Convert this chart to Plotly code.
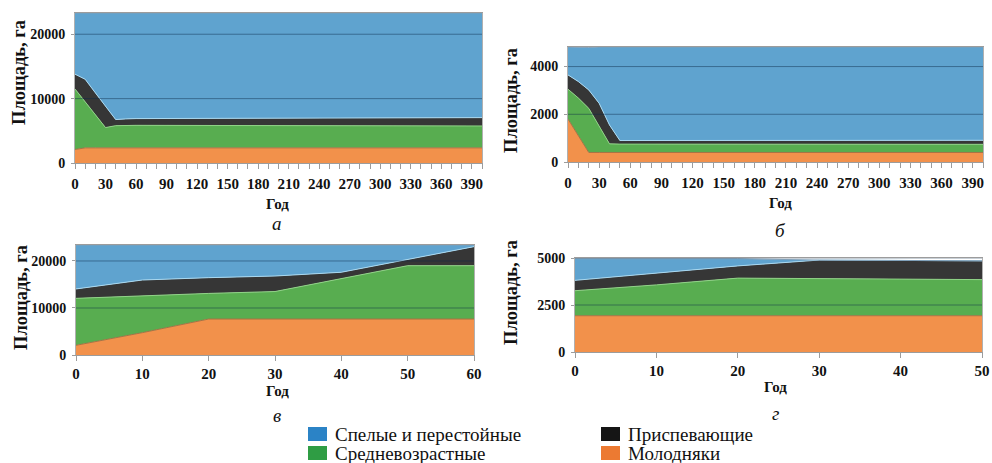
import plotly.graph_objects as go

W, H = 992, 463

# ---------------- data ----------------
categories = ["Молодняки", "Средневозрастные", "Приспевающие", "Спелые и перестойные"]

# panel а
a_years = [0, 10, 20, 30, 40, 50, 60, 400]
a_young = [2100, 2350, 2350, 2350, 2350, 2350, 2350, 2350]
a_middle = [9400, 7150, 5150, 3150, 3450, 3500, 3500, 3400]
a_premature = [2300, 3500, 3400, 3350, 950, 1000, 1050, 1300]
a_mature = [9500, 10300, 12400, 14450, 16550, 16450, 16400, 16250]

# panel б
b_years = [0, 10, 20, 30, 40, 50, 400]
b_young = [1800, 1100, 400, 400, 400, 400, 400]
b_middle = [1250, 1580, 1850, 1080, 360, 350, 340]
b_premature = [600, 690, 770, 980, 790, 150, 170]
b_mature = [1170, 1430, 1780, 2360, 3270, 3920, 3910]

# panel в
c_years = [0, 10, 20, 30, 40, 50, 60]
c_young = [2060, 4750, 7650, 7650, 7650, 7650, 7650]
c_middle = [9990, 7850, 5450, 5850, 8650, 11350, 11350]
c_premature = [2000, 3350, 3350, 3300, 1300, 1350, 4050]
c_mature = [9350, 7450, 6950, 6600, 5800, 3050, 350]

# panel г
d_years = [0, 10, 20, 30, 40, 50]
d_young = [1930, 1930, 1930, 1930, 1930, 1930]
d_middle = [1330, 1640, 2000, 1970, 1940, 1920]
d_premature = [550, 640, 650, 990, 1000, 1000]
d_mature = [1150, 750, 380, 0, 0, 0]

# tick labels
a_xticks = list(range(0, 391, 30))
b_xticks = list(range(0, 391, 30))
c_xticks = list(range(0, 61, 10))
d_xticks = list(range(0, 51, 10))
a_yticks = [0, 10000, 20000]
b_yticks = [0, 2000, 4000]
c_yticks = [0, 10000, 20000]
d_yticks = [0, 2500, 5000]

panel_letters = ["а", "б", "в", "г"]
x_title = "Год"
y_title = "Площадь, га"
legend_order = ["Спелые и перестойные", "Приспевающие", "Средневозрастные", "Молодняки"]

# ---------------- styles ----------------
fill_colors = {
    "Молодняки": "#f2914b",
    "Средневозрастные": "#58ad50",
    "Приспевающие": "#363636",
    "Спелые и перестойные": "#5fa3cf",
}
edge_colors = {
    "Молодняки": "#a77243",
    "Средневозрастные": "#8fd486",
    "Приспевающие": "#a8d8f0",
    "Спелые и перестойные": "#7f9fb8",
}
legend_colors = {
    "Спелые и перестойные": "#2b83c6",
    "Приспевающие": "#151515",
    "Средневозрастные": "#2f9d44",
    "Молодняки": "#ec7a32",
}

SERIF = "Liberation Serif, Times New Roman, Times, serif"

def fx(px):
    return px / W

def fy(py):
    return 1 - py / H

def px_x(a, b):
    return [fx(a), fx(b)]

def px_y(top, bottom):
    return [fy(bottom), fy(top)]

panels = [
    dict(x=a_years, vals=[a_young, a_middle, a_premature, a_mature], xr=[0, 400], yr=[0, 23300],
         xt=a_xticks, yt=a_yticks, dom_x=px_x(75, 482), dom_y=px_y(13, 163), minor=10, so=2),
    dict(x=b_years, vals=[b_young, b_middle, b_premature, b_mature], xr=[0, 400], yr=[0, 4820],
         xt=b_xticks, yt=b_yticks, dom_x=px_x(568, 983), dom_y=px_y(47, 162), minor=10, so=2),
    dict(x=c_years, vals=[c_young, c_middle, c_premature, c_mature], xr=[0, 60], yr=[0, 23400],
         xt=c_xticks, yt=c_yticks, dom_x=px_x(76, 474), dom_y=px_y(245, 355), minor=None, so=0),
    dict(x=d_years, vals=[d_young, d_middle, d_premature, d_mature], xr=[0, 50], yr=[0, 5000],
         xt=d_xticks, yt=d_yticks, dom_x=px_x(575, 982), dom_y=px_y(258, 352), minor=None, so=0),
]

fig = go.Figure()
shapes = []
annotations = []
layout_axes = {}

for i, p in enumerate(panels):
    n = "" if i == 0 else str(i + 1)
    xa, ya = "x" + n, "y" + n
    for cat, vals in zip(categories, p["vals"]):
        fig.add_trace(go.Scatter(
            x=p["x"], y=vals, xaxis=xa, yaxis=ya, mode="lines",
            stackgroup="s" + str(i), name=cat, showlegend=False,
            line=dict(color=edge_colors[cat], width=1),
            fillcolor=fill_colors[cat], hoverinfo="skip",
        ))
    xaxis = dict(
        domain=p["dom_x"], range=p["xr"], anchor=ya, tickmode="array",
        tickvals=p["xt"], ticktext=[str(v) for v in p["xt"]], automargin=False,
        showgrid=False, zeroline=False, showline=True, linecolor="#9c9c9c", mirror=True,
        ticks="outside", ticklen=5, tickcolor="#9c9c9c",
        tickfont=dict(family=SERIF, size=15, color="#111", weight="bold"),
        ticklabelstandoff=p["so"], ticklabeloverflow="allow", fixedrange=True,
    )
    if p["minor"]:
        xaxis["minor"] = dict(dtick=p["minor"], ticks="outside", ticklen=5, tickcolor="#9c9c9c", showgrid=False)
    yaxis = dict(
        domain=p["dom_y"], range=p["yr"], anchor=xa, tickmode="array",
        tickvals=p["yt"], ticktext=[str(v) for v in p["yt"]], automargin=False,
        showgrid=False, zeroline=False, showline=True, linecolor="#b0b0b0", mirror=True,
        ticks="outside", ticklen=3, tickcolor="#9c9c9c",
        tickfont=dict(family=SERIF, size=14, color="#111", weight="bold"),
        ticklabelstandoff=3, ticklabeloverflow="allow", fixedrange=True,
    )
    layout_axes["xaxis" + n] = xaxis
    layout_axes["yaxis" + n] = yaxis
    for yv in p["yt"][1:]:
        shapes.append(dict(type="line", xref=xa + " domain", yref=ya, x0=0, x1=1, y0=yv, y1=yv,
                           line=dict(color="rgba(10,40,70,0.45)", width=1), layer="above"))

# axis titles and panel letters (pixel positions)
ytitle_pos = [(19, 73), (511, 101), (21, 298), (511, 293)]
xtitle_pos = [(277, 204), (780, 203), (277, 391), (775, 387)]
letter_pos = [(277, 224), (780, 230), (277, 415), (775, 413)]
for k in range(4):
    x, y = ytitle_pos[k]
    annotations.append(dict(xref="paper", yref="paper", x=fx(x), y=fy(y), text=y_title,
                            textangle=-90, showarrow=False, xanchor="center", yanchor="middle",
                            font=dict(family=SERIF, size=18.5, color="#111", weight="bold")))
    x, y = xtitle_pos[k]
    annotations.append(dict(xref="paper", yref="paper", x=fx(x), y=fy(y), text=x_title,
                            showarrow=False, xanchor="center", yanchor="middle",
                            font=dict(family=SERIF, size=15, color="#111", weight="bold")))
    x, y = letter_pos[k]
    annotations.append(dict(xref="paper", yref="paper", x=fx(x), y=fy(y), text=panel_letters[k],
                            showarrow=False, xanchor="center", yanchor="middle",
                            font=dict(family=SERIF, size=19, color="#111", style="italic")))

# legend (two columns)
leg_cols = [308, 601]
leg_rows = [434, 453]
for j, cat in enumerate(legend_order):
    cx = leg_cols[j % 2]
    cy = leg_rows[j // 2]
    shapes.append(dict(type="rect", xref="paper", yref="paper",
                       x0=fx(cx), x1=fx(cx + 19), y0=fy(cy + 7), y1=fy(cy - 7),
                       fillcolor=legend_colors[cat], line=dict(width=0)))
    annotations.append(dict(xref="paper", yref="paper", x=fx(cx + 25), y=fy(cy), text=cat,
                            showarrow=False, xanchor="left", yanchor="middle",
                            font=dict(family=SERIF, size=19, color="#111")))

fig.update_layout(
    width=W, height=H, margin=dict(l=0, r=0, t=0, b=0, autoexpand=False),
    paper_bgcolor="white", plot_bgcolor="white",
    shapes=shapes, annotations=annotations, showlegend=False,
    hovermode=False,
    **layout_axes,
)

fig.write_html(
    "out.html",
    config={"displayModeBar": False, "staticPlot": True},
    post_script="document.body.style.margin='0';document.body.style.overflow='hidden';",
)
